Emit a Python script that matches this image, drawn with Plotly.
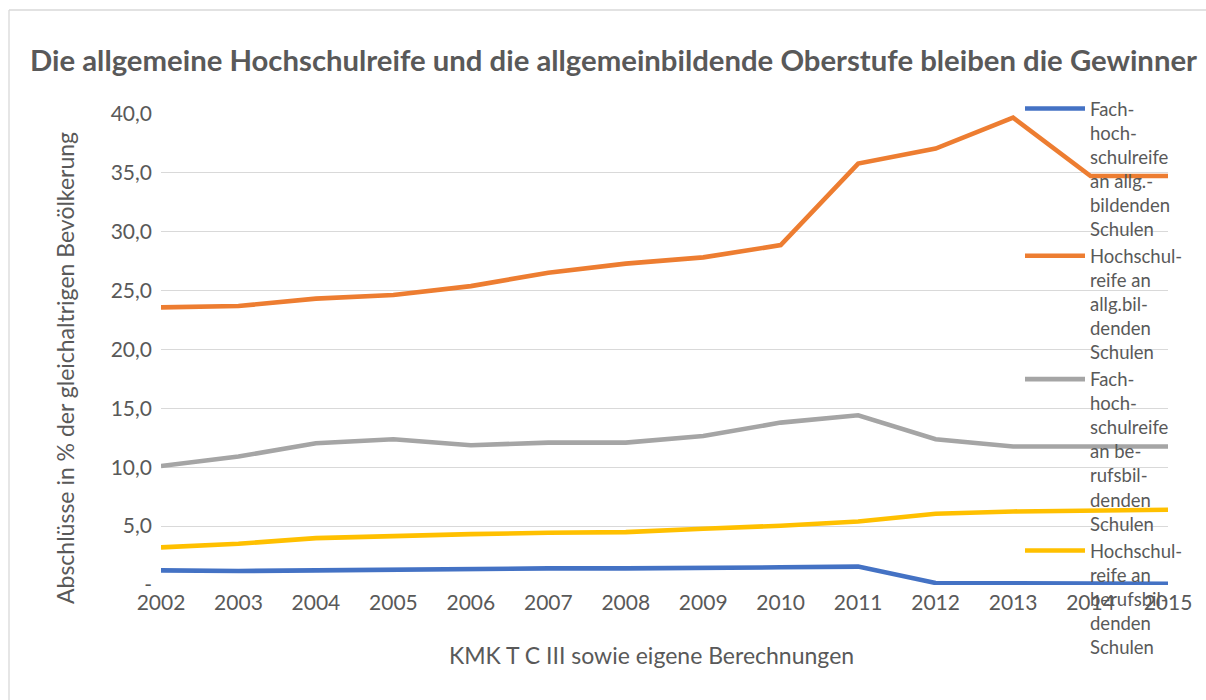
import plotly.graph_objects as go

years = ["2002", "2003", "2004", "2005", "2006", "2007", "2008", "2009",
         "2010", "2011", "2012", "2013", "2014", "2015"]

fhr_allg = [1.24, 1.19, 1.24, 1.30, 1.44, 1.41, 1.41, 1.41, 1.50, 1.56, 0.17, 0.15, 0.12, 0.10]
hr_allg = [23.56, 23.67, 24.30, 24.60, 25.36, 26.50, 27.27, 27.80, 28.84, 35.76, 37.03, 39.66, 34.70, 34.70]
fhr_beruf = [10.10, 10.90, 12.03, 12.37, 11.86, 12.08, 12.08, 12.65, 13.78, 14.40, 12.37, 11.75, 11.75, 11.75]
hr_beruf = [3.19, 3.50, 3.98, 4.18, 4.32, 4.43, 4.49, 4.77, 5.03, 5.39, 6.04, 6.24, 6.30, 6.38]

series_names = [
    "Fach-<br>hoch-<br>schulreife<br>an allg.-<br>bildenden<br>Schulen",
    "Hochschul-<br>reife an<br>allg.bil-<br>denden<br>Schulen",
    "Fach-<br>hoch-<br>schulreife<br>an be-<br>rufsbil-<br>denden<br>Schulen",
    "Hochschul-<br>reife an<br>berufsbil-<br>denden<br>Schulen",
]
series_values = [fhr_allg, hr_allg, fhr_beruf, hr_beruf]
series_colors = ["#4472C4", "#ED7D31", "#A5A5A5", "#FFC000"]

ytick_vals = [0, 5, 10, 15, 20, 25, 30, 35, 40]
ytick_text = ["-", "5,0", "10,0", "15,0", "20,0", "25,0", "30,0", "35,0", "40,0"]

title_text = "Die allgemeine Hochschulreife und die allgemeinbildende Oberstufe bleiben die Gewinner"
y_title = "Abschlüsse in % der gleichaltrigen Bevölkerung"
x_title = "KMK T C III sowie eigene Berechnungen"

FONT = "Lato, 'DejaVu Sans', sans-serif"
TXT = "#595959"

W, H = 1206, 700
L, R, T, B = 161, 38, 113, 115
pw = W - L - R
ph = H - T - B

def px_x(x):
    return (x - L) / pw

def px_y(y):
    return (H - B - y) / ph

fig = go.Figure()
for name, vals, col in zip(series_names, series_values, series_colors):
    fig.add_trace(go.Scatter(
        x=list(range(len(years))), y=vals, mode="lines", name=name,
        line=dict(color=col, width=4.6),
    ))

fig.update_layout(
    width=W, height=H,
    margin=dict(l=L, r=R, t=T, b=B, autoexpand=False),
    paper_bgcolor="white", plot_bgcolor="white",
    font=dict(family=FONT, color=TXT, size=19),
    showlegend=True,
    legend=dict(
        x=px_x(1020), y=px_y(90), xanchor="left", yanchor="top",
        bgcolor="rgba(0,0,0,0)", font=dict(size=18.5, color=TXT, family=FONT),
        valign="top", itemwidth=60, tracegroupgap=0, maxheight=700,
    ),
    xaxis=dict(
        range=[0, len(years) - 1],
        tickvals=list(range(len(years))), ticktext=years,
        showgrid=False, zeroline=False, showline=False,
        ticks="", tickfont=dict(size=21, color=TXT), ticklabelstandoff=3,
    ),
    yaxis=dict(
        range=[0, 40.05],
        tickvals=ytick_vals, ticktext=ytick_text,
        showgrid=True, gridcolor="#D9D9D9", gridwidth=1.3,
        zeroline=False, showline=False, ticks="",
        tickfont=dict(size=21, color=TXT), ticklabelstandoff=8,
    ),
    annotations=[
        dict(text=f"<b>{title_text}</b>", x=px_x(613), y=px_y(60), xref="paper", yref="paper",
             xanchor="center", yanchor="middle", showarrow=False,
             font=dict(size=29.3, color=TXT, family=FONT)),
        dict(text=y_title, x=px_x(65), y=px_y(368), xref="paper", yref="paper",
             xanchor="center", yanchor="middle", showarrow=False, textangle=-90,
             font=dict(size=23, color=TXT, family=FONT)),
        dict(text=x_title, x=px_x(651), y=px_y(655), xref="paper", yref="paper",
             xanchor="center", yanchor="middle", showarrow=False,
             font=dict(size=23, color=TXT, family=FONT)),
    ],
    shapes=[
        dict(type="line", xref="paper", yref="paper", x0=px_x(9), x1=px_x(1210),
             y0=px_y(10), y1=px_y(10), line=dict(color="#D9D9D9", width=1.3)),
        dict(type="line", xref="paper", yref="paper", x0=px_x(9), x1=px_x(9),
             y0=px_y(10), y1=px_y(705), line=dict(color="#D9D9D9", width=1.3)),
    ],
)

fig.write_html("out.html", config={"displayModeBar": False},
               post_script="document.body.style.margin='0';document.body.style.overflow='hidden';")
